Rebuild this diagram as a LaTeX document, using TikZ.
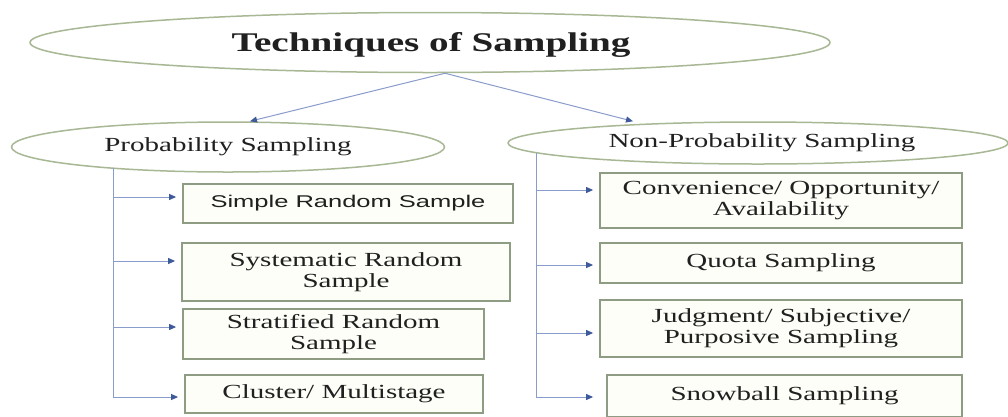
\documentclass[tikz,border=0pt]{standalone}
\usepackage{fontspec}
\setmainfont{Liberation Serif}[FakeStretch=1.45]
\newfontfamily\srsfont{Liberation Sans}[FakeStretch=1.5]
\usetikzlibrary{arrows.meta,shapes.geometric}
\definecolor{ellcol}{HTML}{A8B894}
\definecolor{boxcol}{HTML}{8E9C84}
\definecolor{linecol}{HTML}{8A9CCB}
\definecolor{tipcol}{HTML}{3F5A9A}
\definecolor{txtcol}{HTML}{202020}
\definecolor{boxfill}{HTML}{FCFEF7}
\begin{document}
\begin{tikzpicture}[x=1pt,y=-1pt,
  ell/.style={ellipse,draw=ellcol,line width=1.5pt,fill=white,inner sep=0pt,text=txtcol},
  box/.style={rectangle,draw=boxcol,line width=1.8pt,fill=boxfill,inner sep=0pt,align=center,text=txtcol,font=\fontsize{20}{21}\selectfont},
  conn/.style={draw=linecol,line width=1pt},
  tarr/.style={conn,-{Triangle[length=7pt,width=6pt,color=tipcol]}},
  barr/.style={tarr,shorten >=6pt}
]
\clip (0,0) rectangle (1008,416);
\fill[white] (0,0) rectangle (1008,416);

% ellipses
\node[ell,minimum width=800pt,minimum height=60pt,font=\fontsize{27}{30}\selectfont\bfseries] (title) at (430,42.5) {};
\node[text=txtcol,font=\fontsize{27}{30}\selectfont\bfseries,inner sep=0pt] (titletext) at (431,45) {Techniques of Sampling};
\node[ell,minimum width=433pt,minimum height=50pt,font=\fontsize{20}{22}\selectfont] (prob) at (228,147) {Probability Sampling};
\node[ell,minimum width=500pt,minimum height=42pt,font=\fontsize{20}{22}\selectfont] (nonprob) at (758,143) {\hspace*{8pt}Non-Probability Sampling};

% left boxes
\node[box,minimum width=330pt,minimum height=39pt] (srs) at (348,203.5) {\srsfont\fontsize{17}{19}\selectfont Simple Random Sample};
\node[box,minimum width=328pt,minimum height=58pt] (sys) at (346,272) {Systematic Random\\Sample};
\node[box,minimum width=301pt,minimum height=50pt] (strat) at (333.5,334) {Stratified Random\\Sample};
\node[box,minimum width=298pt,minimum height=38pt] (clus) at (334,394) {Cluster/ Multistage};

% right boxes
\node[box,minimum width=362pt,minimum height=55pt] (conv) at (781,200.5) {Convenience/ Opportunity/\\Availability};
\node[box,minimum width=362pt,minimum height=40pt] (quota) at (781,263) {Quota Sampling};
\node[box,minimum width=362pt,minimum height=57pt] (judg) at (781,328.5) {Judgment/ Subjective/\\Purposive Sampling};
\node[box,minimum width=355pt,minimum height=42pt] (snow) at (784.5,396) {\raisebox{4pt}{Snowball Sampling}};

% top arrows
\draw[tarr] ([xshift=15pt]title.south) -- ([xshift=22pt]prob.north);
\draw[tarr] ([xshift=15pt]title.south) -- ([xshift=-125pt]nonprob.north);

% trunk tops on the ellipse borders
\coordinate (ltop) at (113,168);
\coordinate (rtop) at (536,153);

% branch points
\coordinate (l1) at ([yshift=6.5pt]srs.west);
\coordinate (l2) at ([yshift=11pt]sys.west);
\coordinate (l3) at ([yshift=7pt]strat.west);
\coordinate (l4) at ([yshift=-3pt]clus.west);
\coordinate (r1) at ([yshift=10.5pt]conv.west);
\coordinate (r2) at ([yshift=-2pt]quota.west);
\coordinate (r3) at ([yshift=-4.5pt]judg.west);
\coordinate (r4) at ([yshift=-1pt]snow.west);

% left tree
\draw[barr] (ltop) |- (l4);
\draw[barr] (l1 -| ltop) -- (l1);
\draw[barr] (l2 -| ltop) -- (l2);
\draw[barr] (l3 -| ltop) -- (l3);

% right tree
\draw[barr] (rtop) |- ([xshift=-7pt]r4);
\draw[barr] (r1 -| rtop) -- (r1);
\draw[barr] (r2 -| rtop) -- (r2);
\draw[barr] (r3 -| rtop) -- (r3);
\end{tikzpicture}
\end{document}
